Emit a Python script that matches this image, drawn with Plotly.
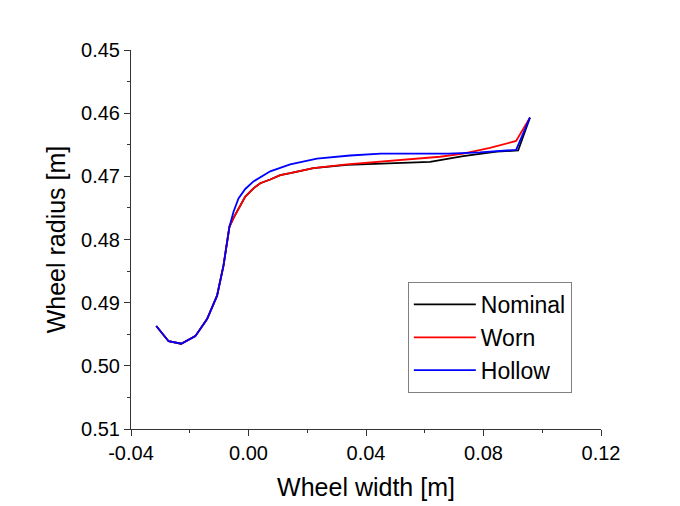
import plotly.graph_objects as go

# Shared flange part (all profiles coincide here)
common_x = [-0.0314, -0.0272, -0.0229, -0.0181, -0.0141, -0.0107, -0.0085, -0.0065]
common_y = [0.4937, 0.4961, 0.4965, 0.4953, 0.4926, 0.4889, 0.4841, 0.4780]

nominal_x = common_x + [-0.0050, -0.0039, -0.0028, -0.0011, 0.0017, 0.0040, 0.0074, 0.0108, 0.0142, 0.0221,
                        0.0335, 0.0448, 0.0561, 0.0618, 0.0731, 0.0845, 0.0918, 0.0958]
nominal_y = common_y + [0.4765, 0.4755, 0.4745, 0.4732, 0.4719, 0.4711, 0.4705, 0.4698, 0.4695, 0.4687,
                        0.4682, 0.4680, 0.4679, 0.4677, 0.4668, 0.4661, 0.4659, 0.4607]

worn_x = common_x + [-0.0050, -0.0039, -0.0028, -0.0011, 0.0017, 0.0040, 0.0074, 0.0108, 0.0142, 0.0221,
                     0.0335, 0.0448, 0.0561, 0.0652, 0.0731, 0.0822, 0.0911, 0.0958]
worn_y = common_y + [0.4765, 0.4755, 0.4745, 0.4732, 0.4719, 0.4711, 0.4705, 0.4698, 0.4695, 0.4687,
                     0.4681, 0.4677, 0.4673, 0.4669, 0.4664, 0.4655, 0.4644, 0.4607]

hollow_x = common_x + [-0.0051, -0.0034, -0.0011, 0.0017, 0.0074, 0.0142, 0.0233, 0.0346, 0.0450, 0.0560,
                       0.0680, 0.0788, 0.0845, 0.0911, 0.0958]
hollow_y = common_y + [0.4756, 0.4735, 0.4720, 0.4708, 0.4692, 0.4681, 0.4672, 0.4667, 0.4664, 0.4664,
                       0.4664, 0.4662, 0.4660, 0.4658, 0.4607]

x_ticks = [-0.04, 0.00, 0.04, 0.08, 0.12]
y_ticks = [0.45, 0.46, 0.47, 0.48, 0.49, 0.50, 0.51]

FONT = "Arial, Liberation Sans, sans-serif"

fig = go.Figure()
fig.add_trace(go.Scatter(x=nominal_x, y=nominal_y, mode="lines", name="Nominal",
                         line=dict(color="#000000", width=1.8)))
fig.add_trace(go.Scatter(x=worn_x, y=worn_y, mode="lines", name="Worn",
                         line=dict(color="#ff0000", width=1.8)))
fig.add_trace(go.Scatter(x=hollow_x, y=hollow_y, mode="lines", name="Hollow",
                         line=dict(color="#0000ff", width=1.8)))

fig.update_layout(
    width=680, height=506,
    margin=dict(l=123, r=87, t=42, b=85),
    paper_bgcolor="white", plot_bgcolor="white",
    font=dict(family=FONT, color="#000000"),
    showlegend=True,
    legend=dict(x=0.589, y=0.388, xanchor="left", yanchor="top",
                bordercolor="#808080", borderwidth=1, bgcolor="white",
                font=dict(size=23, family=FONT), itemwidth=62,
                tracegroupgap=0),
)
fig.update_xaxes(
    range=[-0.04, 0.12], tickvals=x_ticks, ticktext=[f"{v:.2f}" for v in x_ticks],
    showline=True, linecolor="#333333", linewidth=1, mirror=False,
    ticks="outside", ticklen=6, tickcolor="#333333", showgrid=False, zeroline=False,
    tickfont=dict(size=20, family=FONT),
    minor=dict(dtick=0.02, ticks="outside", ticklen=3, tickcolor="#333333", showgrid=False),
    title=dict(text="Wheel width [m]", font=dict(size=25, family=FONT), standoff=15),
)
fig.update_yaxes(
    range=[0.51, 0.45], tickvals=y_ticks, ticktext=[f"{v:.2f}" for v in y_ticks],
    showline=True, linecolor="#333333", linewidth=1, mirror=False,
    ticks="outside", ticklen=6, tickcolor="#333333", showgrid=False, zeroline=False,
    tickfont=dict(size=20, family=FONT),
    minor=dict(tickvals=[0.455, 0.465, 0.475, 0.485, 0.495, 0.505], ticks="outside", ticklen=3,
               tickcolor="#333333", showgrid=False),
    title=dict(text="Wheel radius [m]", font=dict(size=25, family=FONT), standoff=8),
)

fig.write_html("out.html")
